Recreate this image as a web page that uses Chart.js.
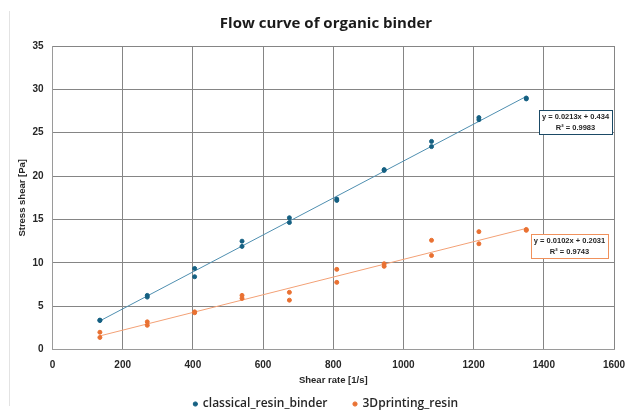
<!DOCTYPE html>
<html>
<head>
<meta charset="utf-8">
<script src="https://cdn.jsdelivr.net/npm/chart.js@4.4.1/dist/chart.umd.min.js"></script>
<style>
  html, body { margin: 0; padding: 0; background: #fff; }
  #wrap { position: relative; width: 627px; height: 411px; }
</style>
</head>
<body>
<div id="wrap"><canvas id="chart"></canvas></div>
<script>
// shear rates, two measurements per step
const shearRates = [135, 135, 270, 270, 405, 405, 540, 540, 675, 675, 810, 810, 945, 945, 1080, 1080, 1215, 1215, 1350, 1350];
const classicalStress = [3.4, 3.35, 6.25, 6.05, 9.35, 8.4, 12.5, 11.9, 15.2, 14.65, 17.35, 17.2, 20.75, 20.65, 24.0, 23.4, 26.75, 26.5, 29.0, 28.9];
const printingStress = [2.0, 1.4, 3.2, 2.8, 4.35, 4.25, 6.25, 5.9, 6.6, 5.7, 9.25, 7.75, 9.9, 9.6, 12.6, 10.85, 13.6, 12.2, 13.85, 13.75];

const seriesNames = ["classical_resin_binder", "3Dprinting_resin"];
const trendSlopes = [0.0213, 0.0102];
const trendIntercepts = [0.434, 0.2031];
const trendR2 = [0.9983, 0.9743];
const trendLabels = ["y = 0.0213x + 0.434", "y = 0.0102x + 0.2031"];

const xTicks = [0, 200, 400, 600, 800, 1000, 1200, 1400, 1600];
const yTicks = [0, 5, 10, 15, 20, 25, 30, 35];

const blue = "#156082";
const orange = "#E97132";

const xMin = Math.min(...shearRates), xMax = Math.max(...shearRates);
function trend(i) {
  return [xMin, xMax].map(x => ({ x: x, y: trendSlopes[i] * x + trendIntercepts[i] }));
}
function pts(ys) {
  return shearRates.map((x, i) => ({ x: x, y: ys[i] }));
}

// equation boxes, anchored in data coordinates
const eqBoxes = [
  { lines: [trendLabels[0], "R² = " + trendR2[0]], x: 1489, y: 26.25, color: "#1b4a66" },
  { lines: [trendLabels[1], "R² = " + trendR2[1]], x: 1472, y: 12.0, color: "#f0915c" }
];

const eqPlugin = {
  id: "eqPlugin",
  beforeDraw(chart) {
    // faint outer frame line on the left
    const ctx = chart.ctx;
    ctx.save();
    ctx.strokeStyle = "#e3e3e3";
    ctx.lineWidth = 1;
    ctx.beginPath();
    ctx.moveTo(9.5, 11);
    ctx.lineTo(9.5, 406);
    ctx.stroke();
    ctx.restore();
  },
  afterDatasetsDraw(chart) {
    const ctx = chart.ctx;
    const xs = chart.scales.x, ys = chart.scales.y;
    ctx.save();
    ctx.font = "bold 7.5px 'Liberation Sans', sans-serif";
    ctx.textAlign = "center";
    ctx.textBaseline = "middle";
    eqBoxes.forEach(b => {
      const cx = xs.getPixelForValue(b.x), cy = ys.getPixelForValue(b.y);
      const w = Math.round(Math.max(...b.lines.map(l => ctx.measureText(l).width)) + 6);
      const h = 24;
      const x0 = Math.round(cx - w / 2), y0 = Math.round(cy - h / 2);
      ctx.fillStyle = "#fff";
      ctx.fillRect(x0, y0, w, h);
      ctx.strokeStyle = b.color;
      ctx.lineWidth = 1;
      ctx.strokeRect(x0 + 0.5, y0 + 0.5, w, h);
      ctx.fillStyle = "#262626";
      ctx.fillText(b.lines[0], x0 + w / 2, y0 + 7);
      ctx.fillText(b.lines[1], x0 + w / 2, y0 + 18);
    });
    ctx.restore();
  }
};

new Chart(document.getElementById("chart"), {
  type: "scatter",
  data: {
    datasets: [
      { label: seriesNames[0], data: pts(classicalStress), backgroundColor: blue, borderColor: blue, pointRadius: 2, pointHoverRadius: 2, order: 1 },
      { label: seriesNames[1], data: pts(printingStress), backgroundColor: orange, borderColor: orange, pointRadius: 2, pointHoverRadius: 2, order: 1 },
      { label: "trend1", type: "line", data: trend(0), borderColor: "#4f8fb0", borderWidth: 1, pointRadius: 0, fill: false, order: 2 },
      { label: "trend2", type: "line", data: trend(1), borderColor: "#f3a176", borderWidth: 1, pointRadius: 0, fill: false, order: 2 }
    ]
  },
  options: {
    responsive: true,
    maintainAspectRatio: false,
    animation: false,
    layout: { padding: { left: 17, right: -8, top: 9, bottom: -9 } },
    plugins: {
      title: {
        display: true,
        text: "Flow curve of organic binder",
        color: "#1a1a1a",
        font: { family: "'Open Sans', sans-serif", size: 15, weight: "bold" },
        padding: { top: 6, bottom: 13 }
      },
      legend: {
        position: "bottom",
        labels: {
          filter: item => item.datasetIndex < 2,
          usePointStyle: true,
          pointStyle: "circle",
          boxWidth: 3,
          boxHeight: 3,
          padding: 26,
          color: "#262626",
          font: { family: "'Open Sans', sans-serif", size: 12, weight: "600" }
        }
      },
      tooltip: { enabled: false }
    },
    scales: {
      x: {
        type: "linear",
        min: xTicks[0],
        max: xTicks[xTicks.length - 1],
        afterBuildTicks: s => { s.ticks = xTicks.map(v => ({ value: v })); },
        afterFit: s => { s.paddingRight = 13; },
        grid: { color: "#858585", lineWidth: 1, drawTicks: false },
        border: { color: "#9a9a9a" },
        ticks: { color: "#262626", padding: 10, callback: v => String(v), font: { family: "'Liberation Sans', sans-serif", size: 10, weight: "bold" } },
        title: { display: true, text: "Shear rate [1/s]", color: "#262626", padding: { top: -7, bottom: -14 }, font: { family: "'Liberation Sans', sans-serif", size: 9.5, weight: "bold" } }
      },
      y: {
        type: "linear",
        min: yTicks[0],
        max: yTicks[yTicks.length - 1],
        afterBuildTicks: s => { s.ticks = yTicks.map(v => ({ value: v })); },
        grid: { color: "#858585", lineWidth: 1, drawTicks: false },
        border: { color: "#9a9a9a" },
        ticks: { color: "#262626", padding: 9, callback: v => String(v), font: { family: "'Liberation Sans', sans-serif", size: 10, weight: "bold" } },
        title: { display: true, text: "Stress shear [Pa]", color: "#262626", padding: { top: 0, bottom: -5 }, font: { family: "'Liberation Sans', sans-serif", size: 9.5, weight: "bold" } }
      }
    }
  },
  plugins: [eqPlugin]
});
</script>
</body>
</html>
